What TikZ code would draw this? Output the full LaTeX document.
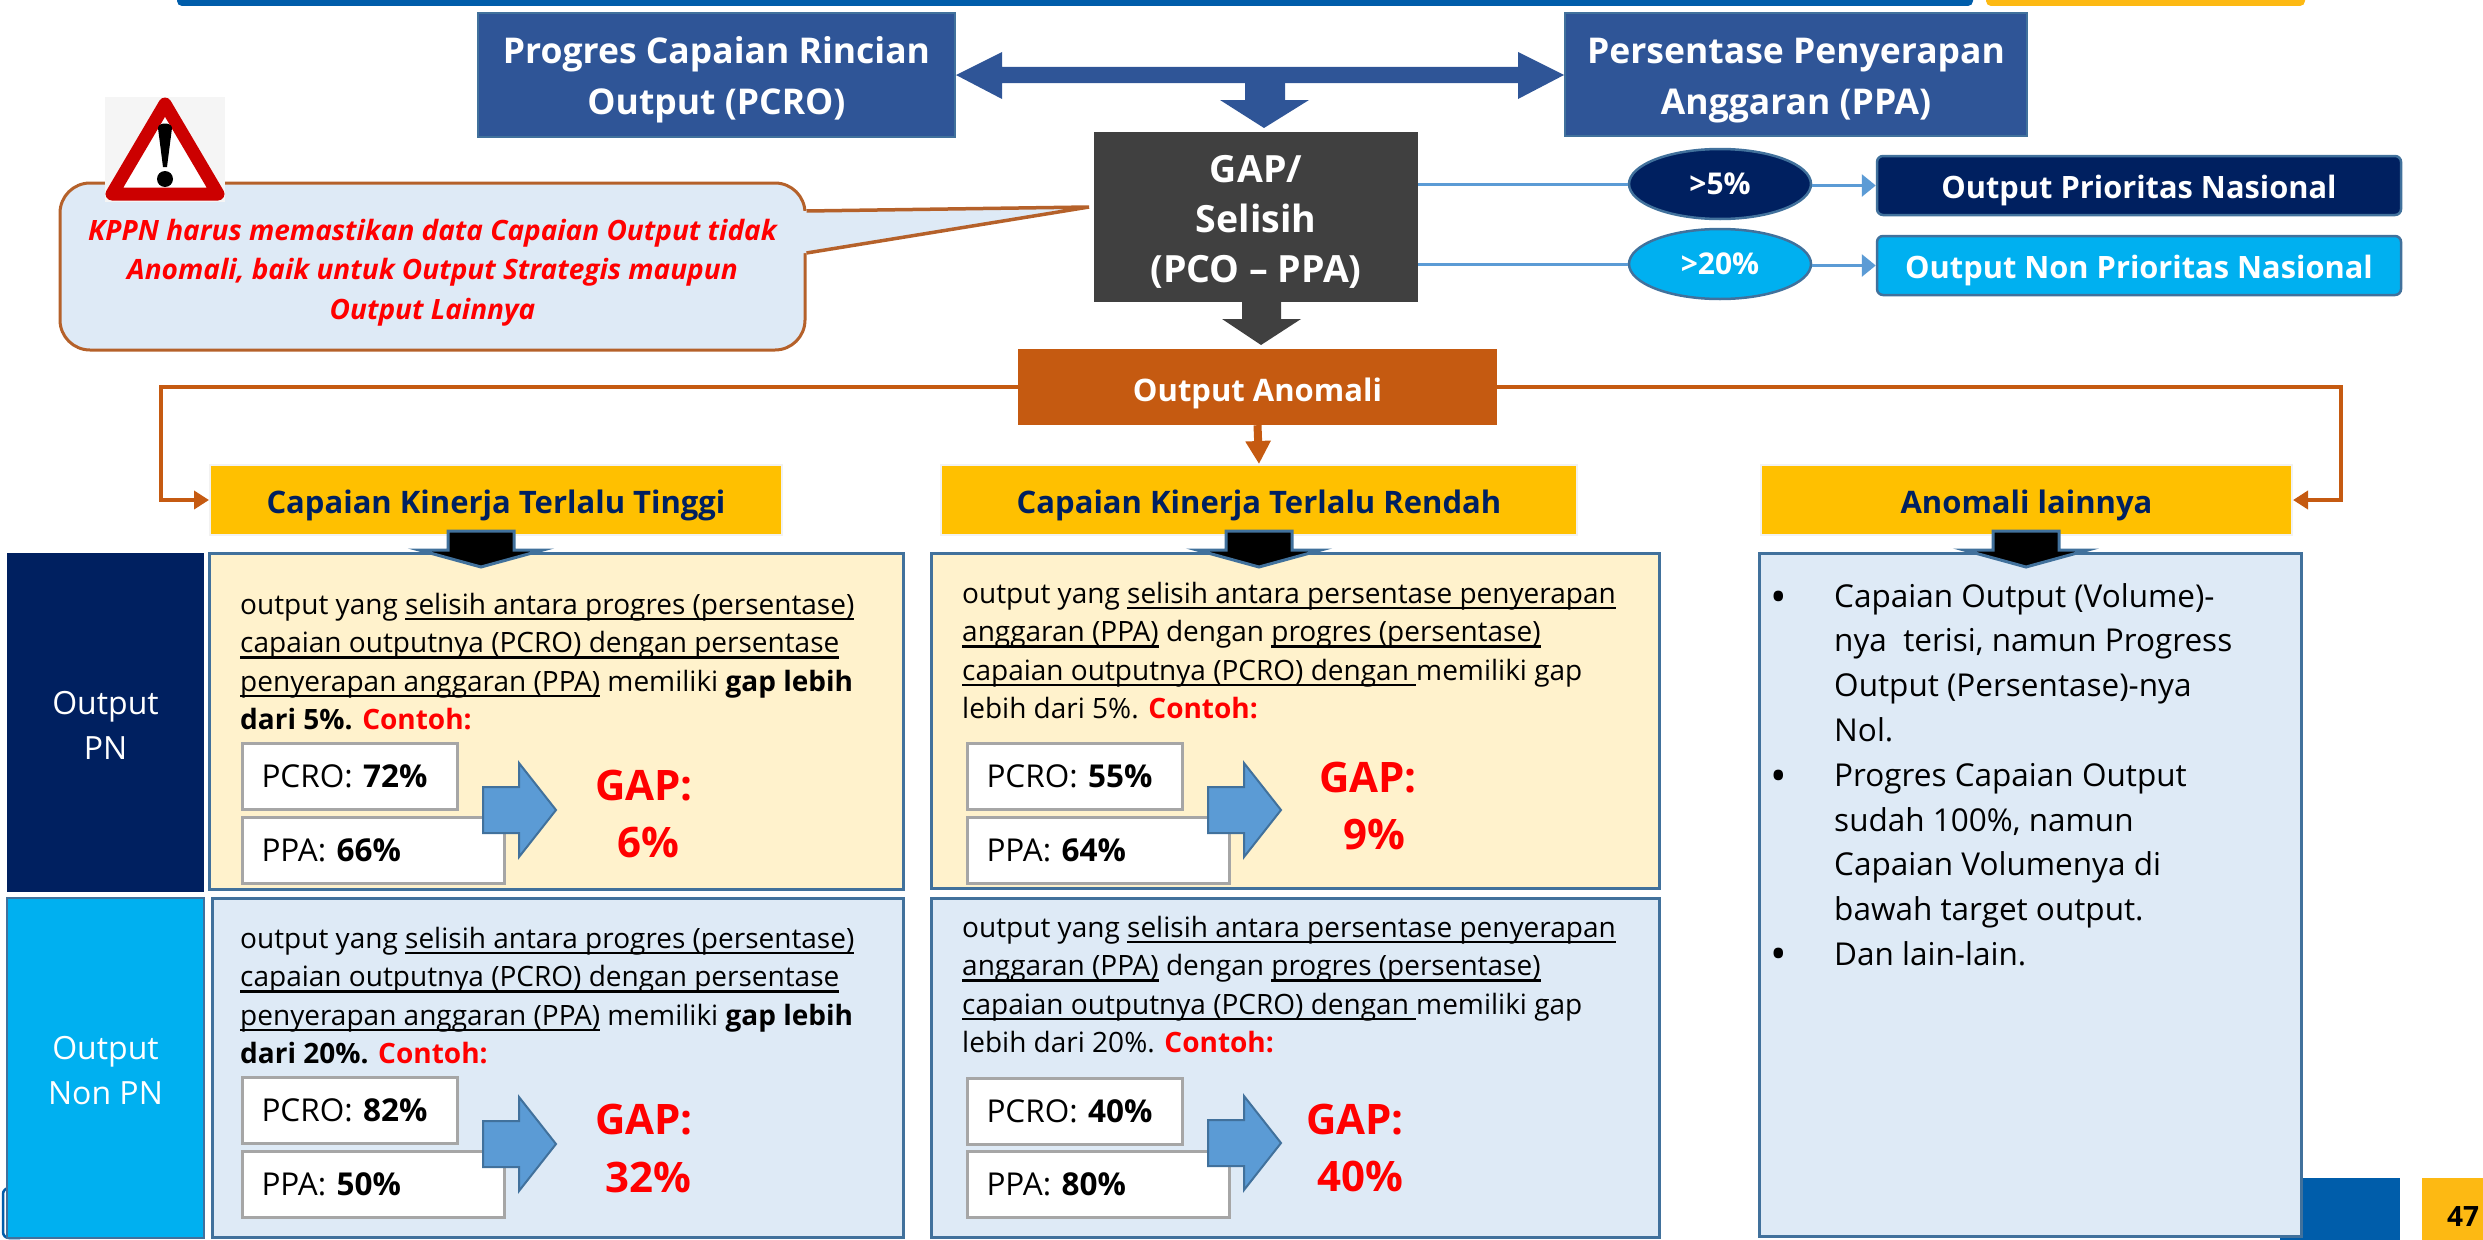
\documentclass[tikz,border=0pt]{standalone}
\usepackage{fontspec}
\setmainfont{Open Sans}
\usepackage{tikz}
\usetikzlibrary{positioning, shapes.geometric, arrows.meta}

\definecolor{topblue}{HTML}{005DAA}
\definecolor{topyellow}{HTML}{FDB913}
\definecolor{headblue}{HTML}{2F5597}
\definecolor{edgeblue}{HTML}{41719C}
\definecolor{navy}{HTML}{002060}
\definecolor{skyblue}{HTML}{00B0F0}
\definecolor{lineblue}{HTML}{5B9BD5}
\definecolor{darkgap}{HTML}{404040}
\definecolor{rust}{HTML}{C55A11}
\definecolor{callrim}{HTML}{B5612A}
\definecolor{amber}{HTML}{FFC000}
\definecolor{cream}{HTML}{FFF2CC}
\definecolor{paleblue}{HTML}{DEEAF6}
\definecolor{signred}{HTML}{CC0000}

\newsavebox{\ulbox}
\newcommand{\fs}[2]{\fontsize{#1}{#2}\selectfont}
\newcommand{\ul}[1]{\sbox{\ulbox}{#1}\rlap{\usebox{\ulbox}}\rule[-6pt]{\wd\ulbox}{2.5pt}}
\newcommand{\gaparrow}[2]{\draw[gaparr] (#1,#2-23) -- (#1+36,#2-23) -- (#1+36,#2-47) -- (#1+73,#2) -- (#1+36,#2+47) -- (#1+36,#2+23) -- (#1,#2+23) -- cycle;}
\newcommand{\blackarrow}[1]{\draw[blackarr] (#1-33,531) -- (#1+33,531) -- (#1+33,550) -- (#1+62,550) -- (#1,567) -- (#1-62,550) -- (#1-33,550) -- cycle;}

\begin{document}
\begin{tikzpicture}[
        x=1pt, y=-1pt,
        darkbox/.style={fill=headblue, draw=edgeblue, line width=2pt, text=white, align=center, font=\bfseries\fs{35.5}{51}, inner sep=0pt},
        oval/.style={ellipse, draw=edgeblue, line width=2.5pt, text=white, font=\bfseries\fs{30}{36}, text height=20pt, text depth=0pt, inner sep=0pt, minimum width=182pt, minimum height=70pt},
        tagbox/.style={rounded corners=6pt, draw=edgeblue, line width=2.5pt, text=white, font=\bfseries\fs{30.8}{36}, text height=26pt, text depth=0pt, inner sep=0pt, minimum width=524pt, minimum height=59pt},
        headbox/.style={fill=amber, draw=black!5, line width=2pt, text=navy, font=\bfseries\fs{31}{36}, text height=26pt, text depth=0pt, inner sep=0pt, minimum height=70pt},
        sidebox/.style={text=white, align=center, font=\fs{32}{45}, inner sep=0pt, minimum width=197pt},
        panel/.style={draw=edgeblue, line width=3pt, inner sep=0pt},
        bodytext/.style={anchor=north west, align=left, inner sep=0pt, font=\fs{28}{38.3}},
        listtext/.style={anchor=north west, align=left, inner sep=0pt, font=\fs{31.5}{44.8}},
        bullet/.style={anchor=base, inner sep=0pt, font=\fs{44}{50}},
        valbox/.style={anchor=north west, draw=black!35, fill=white, line width=3pt, inner xsep=19pt, inner ysep=0pt, minimum height=66pt, font=\fs{31.5}{36}},
        gaptext/.style={text=red, font=\bfseries\fs{42}{50}, inner sep=0pt},
        gaparr/.style={fill=lineblue, draw=edgeblue, line width=2pt, line join=miter},
        blackarr/.style={fill=black, draw=edgeblue, line width=3pt},
        thinline/.style={draw=lineblue, line width=3pt},
        rustline/.style={draw=rust, line width=4pt}
      ]
      \useasboundingbox (0,0) rectangle (2483,1239);
      % top and bottom bands
      \node[fill=topblue, rounded corners=5pt, minimum width=1796pt, minimum height=30pt, inner sep=0pt] (topbar) at (1075,-9) {};
      \node[fill=topyellow, rounded corners=5pt, minimum width=319pt, minimum height=30pt, inner sep=0pt] (topgold) at (2145.5,-9) {};
      \node[fill=topblue, minimum width=120pt, minimum height=62pt, inner sep=0pt] (footblue) at (2340,1209) {};
      \node[fill=topyellow, minimum width=61pt, minimum height=62pt, inner sep=0pt] (footgold) at (2452.5,1209) {};
      \node[font=\bfseries\fs{28}{34}, inner sep=0pt] (pagenum) at (2463,1216) {47};
      \draw[topblue, line width=2.5pt, rounded corners=6pt] (20,1188) -- (3,1188) -- (3,1238) -- (20,1238);

      % top row
      \node[darkbox, minimum width=477pt, minimum height=124pt] (pcro) at (716.5,75) {\rule{0pt}{37pt}Progres Capaian Rincian\\Output (PCRO)};
      \node[darkbox, minimum width=462pt, minimum height=123pt] (ppa) at (1796,74.5) {\rule{0pt}{37pt}Persentase Penyerapan\\Anggaran (PPA)};
      \fill[headblue] (1245,75) -- (1285,75) -- (1285,100) -- (1309,100) -- (1264,128) -- (1220,100) -- (1245,100) -- cycle;
      \fill[headblue] (pcro.east |- 0,75) -- (1002,52) -- (1002,67) -- (1518,67) -- (1518,52) -- (ppa.west |- 0,75) -- (1518,99) -- (1518,83) -- (1002,83) -- (1002,99) -- cycle;

      % gap
      \node[fill=darkgap, text=white, align=center, font=\bfseries\fs{37.5}{50}, inner sep=0pt, minimum width=324pt, minimum height=170pt] (gap) at (1256,217) {\rule{0pt}{37pt}GAP/\\Selisih\\(PCO – PPA)};
      \fill[darkgap] (1242,302) -- (1281,302) -- (1281,319) -- (1301,319) -- (1261,345) -- (1222,319) -- (1242,319) -- cycle;
      \node[oval, fill=navy] (over5) at (1720,184) {>5\%};
      \node[oval, fill=skyblue] (over20) at (1720,264) {>20\%};
      \node[tagbox, fill=navy] (tagpn) at (2139,185.5) {Output Prioritas Nasional};
      \node[tagbox, fill=skyblue] (tagnon) at (2139,265.5) {Output Non Prioritas Nasional};
      \draw[thinline] (gap.east |- over5) -- (over5);
      \draw[thinline] (gap.east |- over20) -- (over20);
      \draw[thinline, -{Triangle[length=14pt,width=22pt]}] (over5.east |- tagpn) -- (tagpn);
      \draw[thinline, -{Triangle[length=14pt,width=22pt]}] (over20.east |- tagnon) -- (tagnon);

      % warning callout
      \node[fill=paleblue, draw=callrim, line width=3pt, rounded corners=30pt, minimum width=745pt, minimum height=167pt, text=red, align=center, inner sep=0pt, font=\bfseries\itshape\fs{28}{39.5}] (warn) at (432.5,266.5) {\rule{0pt}{33pt}KPPN harus memastikan data Capaian Output tidak\\Anomali, baik untuk Output Strategis maupun\\Output Lainnya};
      \coordinate (tailtip) at (1089,207);
      \fill[paleblue] (warn.east |- 0,211) -- (tailtip) -- (warn.east |- 0,253) -- (800,253) -- (800,211) -- cycle;
      \draw[callrim, line width=3.5pt] (warn.east |- 0,211) -- (tailtip) -- (warn.east |- 0,253);
      \fill[black!4] (105,97) rectangle (225,202);
      \draw[fill=white, draw=signred, line width=13pt, line join=round] (165,104) -- (112,194) -- (218,194) -- cycle;
      \fill[black] (158,128) .. controls (158,122) and (172,122) .. (172,128) -- (167,167) -- (163,167) -- cycle;
      \fill[black] (165,179) circle (8);

      % anomaly row
      \node[fill=rust, text=white, font=\bfseries\fs{31}{36}, text height=28pt, text depth=0pt, inner sep=0pt, minimum width=479pt, minimum height=76pt] (anomali) at (1257.5,387) {Output Anomali};
      \node[headbox, minimum width=572pt] (high) at (496,500) {Capaian Kinerja Terlalu Tinggi};
      \node[headbox, minimum width=636pt] (low) at (1259,500) {Capaian Kinerja Terlalu Rendah};
      \node[headbox, minimum width=531pt] (other) at (2026.5,500) {Anomali lainnya};
      \draw[rustline, -{Triangle[length=15pt,width=18pt]}] (anomali.west) -| (161,500) -- (high.west);
      \draw[rustline, -{Triangle[length=15pt,width=18pt]}] (anomali.east) -| (2341,500) -- (other.east);
      \draw[draw=rust, line width=8pt, -{Triangle[length=23pt,width=24pt]}] (anomali.south) -- (low.north);

      % side labels
      \node[sidebox, fill=navy, minimum height=339pt] (sidepn) at (105.5,722.5) {\rule{0pt}{29pt}Output\\PN};
      \node[sidebox, fill=skyblue, draw=edgeblue, line width=2pt, minimum height=340pt] (sidenon) at (105.5,1068) {\rule{0pt}{28pt}Output\\Non PN};

      % panels
      \node[panel, fill=cream, minimum width=694pt, minimum height=336pt] (panelA) at (556,721) {};
      \node[panel, fill=paleblue, minimum width=691pt, minimum height=339pt] (panelB) at (557.5,1067.5) {};
      \node[panel, fill=cream, minimum width=728pt, minimum height=335pt] (panelC) at (1295,720.5) {};
      \node[panel, fill=paleblue, minimum width=728pt, minimum height=339pt] (panelD) at (1295,1067.5) {};
      \node[panel, fill=paleblue, minimum width=542pt, minimum height=683pt] (panelE) at (2030,894.5) {};

      % panel A
      \node[bodytext] (textA) at (240,593) {output yang \ul{selisih antara progres (persentase)}\\\ul{capaian outputnya (PCRO) dengan persentase}\\\ul{penyerapan anggaran (PPA)} memiliki \textbf{gap lebih}\\\textbf{dari 5\%. \textcolor{red}{Contoh:}}};
      \node[valbox, text width=177pt] (pcroA) at (241,742) {PCRO: \textbf{72\%}};
      \node[valbox, text width=224pt] (ppaA) at (241,816) {PPA: \textbf{66\%}};
      \gaparrow{483}{810}
      \node[gaptext] (gapA) at (644,786) {GAP:};
      \node[gaptext] (valA) at (648,842) {6\%};

      % panel B
      \node[bodytext] (textB) at (240,927) {output yang \ul{selisih antara progres (persentase)}\\\ul{capaian outputnya (PCRO) dengan persentase}\\\ul{penyerapan anggaran (PPA)} memiliki \textbf{gap lebih}\\\textbf{dari 20\%. \textcolor{red}{Contoh:}}};
      \node[valbox, text width=177pt] (pcroB) at (241,1076) {PCRO: \textbf{82\%}};
      \node[valbox, text width=224pt] (ppaB) at (241,1150) {PPA: \textbf{50\%}};
      \gaparrow{483}{1144}
      \node[gaptext] (gapB) at (644,1120) {GAP:};
      \node[gaptext] (valB) at (648,1177) {32\%};

      % panel C
      \node[bodytext] (textC) at (962,582) {output yang \ul{selisih antara persentase penyerapan}\\\ul{anggaran (PPA)} dengan \ul{progres (persentase)}\\\ul{capaian outputnya (PCRO) dengan }memiliki gap\\lebih dari 5\%. \textcolor{red}{\textbf{Contoh:}}};
      \node[valbox, text width=177pt] (pcroC) at (966,742) {PCRO: \textbf{55\%}};
      \node[valbox, text width=224pt] (ppaC) at (966,816) {PPA: \textbf{64\%}};
      \gaparrow{1208}{810}
      \node[gaptext] (gapC) at (1368,778) {GAP:};
      \node[gaptext] (valC) at (1374,834) {9\%};

      % panel D
      \node[bodytext] (textD) at (962,916) {output yang \ul{selisih antara persentase penyerapan}\\\ul{anggaran (PPA)} dengan \ul{progres (persentase)}\\\ul{capaian outputnya (PCRO) dengan }memiliki gap\\lebih dari 20\%. \textcolor{red}{\textbf{Contoh:}}};
      \node[valbox, text width=177pt] (pcroD) at (966,1077) {PCRO: \textbf{40\%}};
      \node[valbox, text width=224pt] (ppaD) at (966,1150) {PPA: \textbf{80\%}};
      \gaparrow{1208}{1143}
      \node[gaptext] (gapD) at (1355,1120) {GAP:};
      \node[gaptext] (valD) at (1360,1176) {40\%};

      % panel E
      \node[listtext] (textE) at (1834,583) {Capaian Output (Volume)-\\nya\ \ terisi, namun Progress\\Output (Persentase)-nya\\Nol.\\Progres Capaian Output\\sudah 100\%, namun\\Capaian Volumenya di\\bawah target output.\\Dan lain-lain.};
      \node[bullet] (dotA) at (1779,612) {•};
      \node[bullet] (dotB) at (1779,791) {•};
      \node[bullet] (dotC) at (1779,969) {•};

      \blackarrow{481}
      \blackarrow{1259}
      \blackarrow{2026}
    \end{tikzpicture}
\end{document}
